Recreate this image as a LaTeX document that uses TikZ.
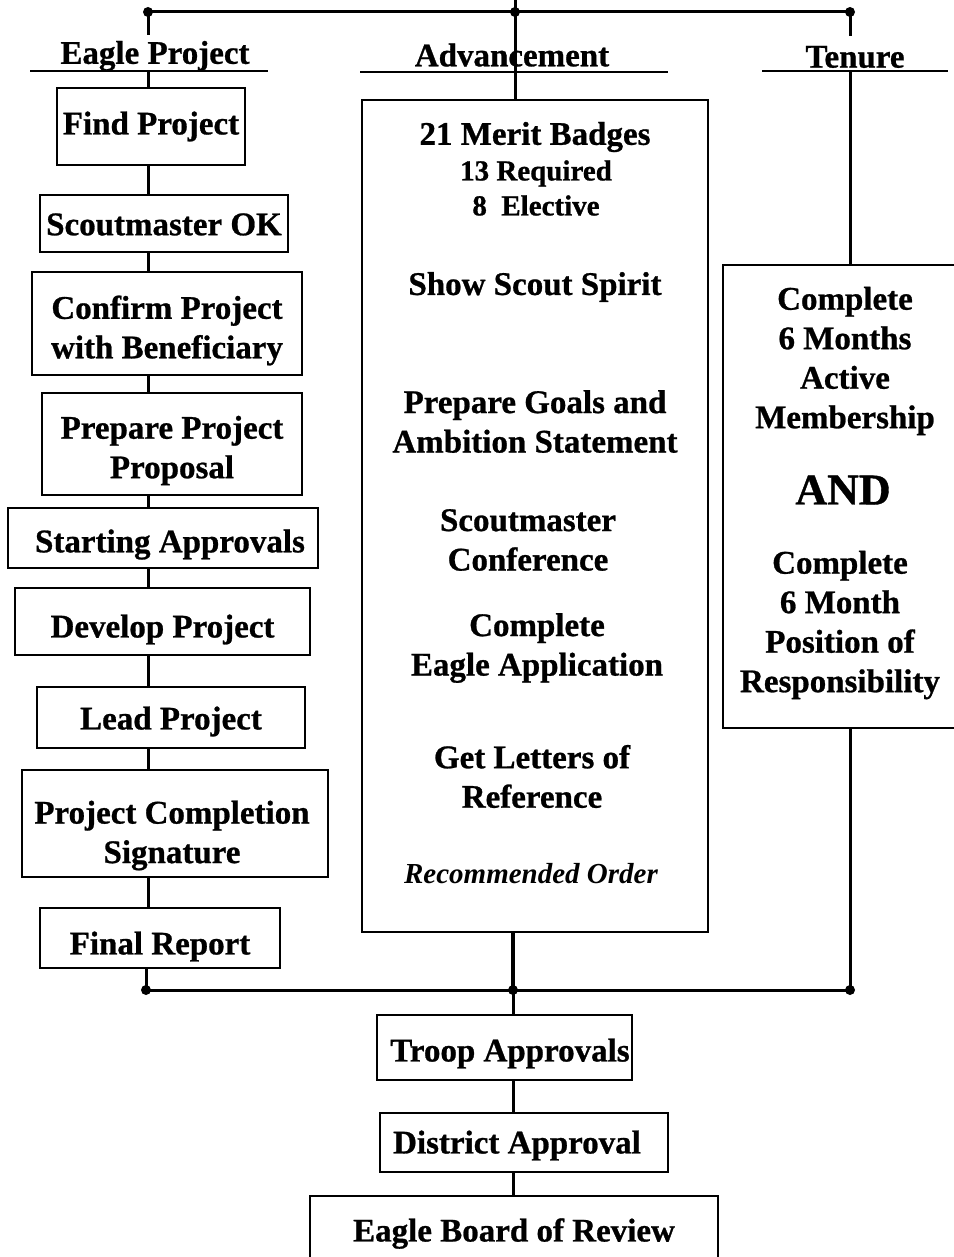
\documentclass[tikz,border=0pt]{standalone}
\usepackage{fontspec}
\setmainfont{Liberation Serif}[BoldFeatures={FakeBold=0.8}]
\newcommand\bigf{\fontsize{33}{39.5}\selectfont\bfseries}
\newcommand\midf{\fontsize{29}{35}\selectfont\bfseries}
\newcommand\andf{\fontsize{44}{50}\selectfont\bfseries}
\begin{document}
\begin{tikzpicture}[x=1pt,y=-1pt,
  box/.style={draw, line width=1.6pt, inner sep=0pt},
  txt/.style={inner sep=0pt, align=center, font=\bigf},
  conn/.style={line width=3pt},
  thick conn/.style={line width=4pt},
  uline/.style={line width=2.6pt},
  jdot/.style={circle, fill, inner sep=0pt, minimum size=10pt}]
\useasboundingbox (0,0) rectangle (953,1257);

% column coordinates
\coordinate (lx) at (148,0);
\coordinate (fx) at (146,0);
\coordinate (cx) at (515,0);
\coordinate (bx) at (513,0);
\coordinate (rx) at (850,0);

% headers
\node[txt] (hEP) at (155,56) {Eagle Project};
\node[txt] (hAD) at (512,55) {Advancement};
\node[txt] (hTE) at (855,57) {Tenure};
\coordinate (uEPl) at (30,71);  \coordinate (uEPr) at (268,71);
\coordinate (uADl) at (360,72); \coordinate (uADr) at (668,72);
\coordinate (uTEl) at (762,71); \coordinate (uTEr) at (948,71);
\draw[uline] (uEPl) -- (uEPr);
\draw[uline] (uADl) -- (uADr);
\draw[uline] (uTEl) -- (uTEr);

% top bar
\node[jdot] (tL) at (148,12) {};
\node[jdot] (tC) at (515,12) {};
\node[jdot] (tR) at (850,12) {};
\coordinate (tTop) at (515,0);
\coordinate (tLe) at (148,35);
\coordinate (tRe) at (850,36);
\draw[conn] (tL.center) -- (tR.center);
\draw[conn] (tL.center) -- (tLe);
\draw[conn] (tR.center) -- (tRe);

% left column boxes
\node[box, minimum width=188, minimum height=77] (fp) at (151,126.5) {};
\node[box, minimum width=248, minimum height=57] (so) at (164,223.5) {};
\node[box, minimum width=270, minimum height=103] (cp) at (167,323.5) {};
\node[box, minimum width=260, minimum height=102] (pp) at (172,444) {};
\node[box, minimum width=310, minimum height=60] (sa) at (163,538) {};
\node[box, minimum width=295, minimum height=67] (dp) at (162.5,621.5) {};
\node[box, minimum width=268, minimum height=61] (lp) at (171,717.5) {};
\node[box, minimum width=306, minimum height=107] (pc) at (175,823.5) {};
\node[box, minimum width=240, minimum height=60] (fr) at (160,938) {};
% left column texts
\node[txt] (fpT) at (151,126.5) {Find Project};
\node[txt] (soT) at (164,224.5) {Scoutmaster OK};
\node[txt] (cpT) at (167,330.5) {Confirm Project\\with Beneficiary};
\node[txt] (ppT) at (172,450.5) {Prepare Project\\Proposal};
\node[txt] (saT) at (170,544.5) {Starting Approvals};
\node[txt] (dpT) at (162.5,629.5) {Develop Project};
\node[txt] (lpT) at (171,721.5) {Lead Project};
\node[txt] (pcT) at (172,835.5) {Project Completion\\Signature};
\node[txt] (frT) at (160,946.5) {Final Report};

\draw[conn] (uEPl -| lx) -- (fp.north -| lx);
\draw[conn] (fp.south -| lx) -- (so.north -| lx);
\draw[conn] (so.south -| lx) -- (cp.north -| lx);
\draw[conn] (cp.south -| lx) -- (pp.north -| lx);
\draw[conn] (pp.south -| lx) -- (sa.north -| lx);
\draw[conn] (sa.south -| lx) -- (dp.north -| lx);
\draw[conn] (dp.south -| lx) -- (lp.north -| lx);
\draw[conn] (lp.south -| lx) -- (pc.north -| lx);
\draw[conn] (pc.south -| lx) -- (fr.north -| lx);

% advancement box
\node[box, minimum width=346, minimum height=832] (adv) at (535,516) {};
\draw[conn] (tTop) -- (adv.north -| cx);
\node[txt] (a1) at (535,137) {21 Merit Badges};
\node[txt, font=\midf] (a2) at (536,188) {13 Required\\8\ \ Elective};
\node[txt] (a3) at (535,287) {Show Scout Spirit};
\node[txt] (a4) at (535,421.5) {Prepare Goals and\\Ambition Statement};
\node[txt] (a5) at (528,540) {Scoutmaster\\Conference};
\node[txt] (a6) at (537,648) {Complete\\Eagle Application};
\node[txt] (a7) at (532,776.5) {Get Letters of\\Reference};
\node[txt, font=\midf\itshape] (a8) at (531,874) {Recommended Order};

% tenure box
\node[box, minimum width=240, minimum height=463] (ten) at (843,496.5) {};
\draw[conn] (uTEl -| rx) -- (ten.north -| rx);
\node[txt] (t1) at (845,361) {Complete\\6 Months\\Active\\Membership};
\node[txt, font=\andf] (t2) at (843,490) {AND};
\node[txt] (t3) at (840,625) {Complete\\6 Month\\Position of\\Responsibility};

% bottom bar
\node[jdot] (bL) at (146,990) {};
\node[jdot] (bC) at (513,990) {};
\node[jdot] (bR) at (850,990) {};
\draw[conn] (bL.center) -- (bR.center);
\draw[conn] (fr.south -| fx) -- (bL.center);
\draw[thick conn] (adv.south -| bx) -- (bC.center);
\draw[conn] (ten.south -| rx) -- (bR.center);

% bottom column
\node[box, minimum width=255, minimum height=65] (ta) at (504.5,1047.5) {};
\node[box, minimum width=288, minimum height=59] (da) at (524,1142.5) {};
\node[box, minimum width=408, minimum height=74] (eb) at (514,1233) {};
\node[txt] (taT) at (510,1053.5) {Troop Approvals};
\node[txt] (daT) at (517,1145.5) {District Approval};
\node[txt] (ebT) at (514,1233.5) {Eagle Board of Review};
\draw[conn] (bC.center) -- (ta.north -| bx);
\draw[conn] (ta.south -| bx) -- (da.north -| bx);
\draw[conn] (da.south -| bx) -- (eb.north -| bx);
\end{tikzpicture}
\end{document}
